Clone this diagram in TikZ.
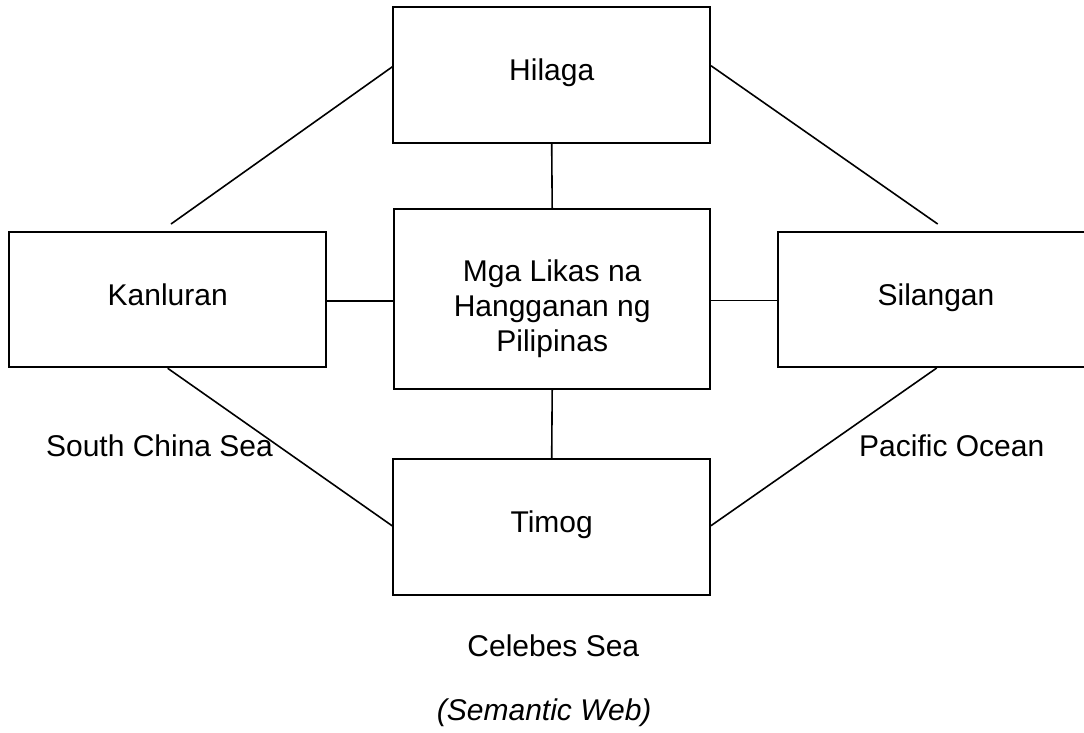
\documentclass[tikz,border=0pt]{standalone}
\usepackage{fontspec}
\setmainfont{Liberation Sans}
\begin{document}
\begin{tikzpicture}[x=1pt,y=-1pt,
  every node/.style={font=\fontsize{30}{35}\selectfont, inner sep=0pt},
  box/.style={draw=black, line width=1.8pt, fill=white, rectangle, minimum width=316.7pt, text height=10pt, text depth=0pt},
  conn/.style={draw=black, line width=1.6pt},
  lbl/.style={anchor=base}]
\useasboundingbox (0,0) rectangle (1084,732);
\fill[white] (0,0) rectangle (1084,732);
% boxes
\node[box, minimum height=136pt] (hil) at (551.7,75.3) {Hilaga};
\node[box, minimum width=315.7pt, minimum height=180pt] (mid) at (552.2,299.3) {};
\node[align=center] (midT) at (552.2,309.1) {Mga Likas na\\Hangganan ng\\Pilipinas};
\node[box, minimum height=135.6pt, text height=11pt] (kan) at (167.7,299.5) {Kanluran};
\node[box, minimum height=135pt, text height=11pt] (sil) at (936,299.5) {Silangan};
\node[box, minimum height=136pt] (tim) at (551.7,527) {Timog};
% free ends
\coordinate (kanTop) at (171,224);
\coordinate (silTop) at (937.7,224);
\coordinate (kanBot) at (167.7,368.3);
\coordinate (silBot) at (936.7,368);
% connectors
\draw[conn] ([yshift=8.6pt]hil.west) -- (kanTop);
\draw[conn] ([yshift=9.6pt]hil.east) -- (silTop);
\draw[conn] (hil.south) -- (mid.north);
\draw[conn] ([yshift=-1.2pt]kan.east) -- ([yshift=-1.2pt]kan.east -| mid.west);
\draw[conn] ([yshift=-1.2pt]mid.east) -- ([yshift=-1.2pt]mid.east -| sil.west);
\draw[conn] (mid.south) -- (tim.north);
\draw[conn] (kanBot) -- ([yshift=1pt]tim.west);
\draw[conn] (silBot) -- ([yshift=1.3pt]tim.east);
% labels
\node[lbl] (scs) at (159.5,456) {South China Sea};
\node[lbl] (po) at (951.7,456) {Pacific Ocean};
\node[lbl] (cs) at (553.3,656.7) {Celebes Sea};
\node[lbl, font=\fontsize{30}{35}\selectfont\itshape] (sw) at (544.2,720) {(Semantic Web)};
\end{tikzpicture}
\end{document}
